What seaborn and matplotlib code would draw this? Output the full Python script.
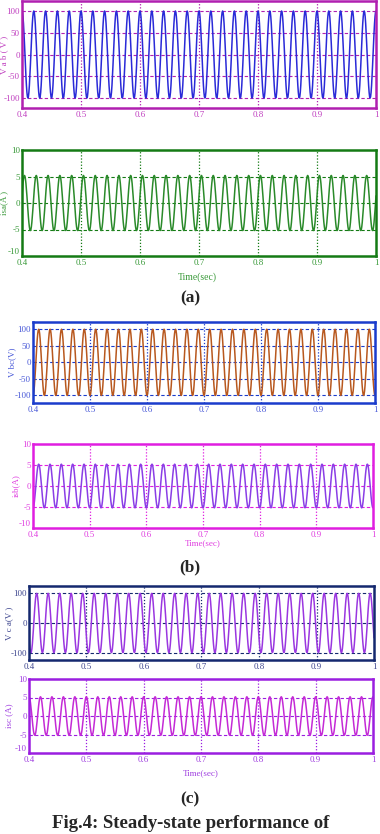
import numpy as np
import pandas as pd
import seaborn as sns
import matplotlib.pyplot as plt

sns.set_style("white")
plt.rcParams['font.family'] = ['Liberation Serif', 'DejaVu Serif']
plt.rcParams['axes.unicode_minus'] = False

# one period of the waveforms (per unit), 24 samples
cycle_shape = [0.0, 0.26, 0.5, 0.71, 0.87, 0.97, 1.0, 0.97, 0.87, 0.71, 0.5, 0.26,
               0.0, -0.26, -0.5, -0.71, -0.87, -0.97, -1.0, -0.97, -0.87, -0.71, -0.5, -0.26]
n_cycles = 30          # 50 Hz over 0.4 .. 1.0 s
t_start, t_end = 0.4, 1.0

names = ["Vab", "isa", "Vbc", "isb", "Vca", "isc"]
amplitudes = [100, 5.2, 100, 5.2, 100, 5.2]
start_index = [6, 1, 18, 18, 14, 6]   # where in the cycle each trace starts at t=0.4
ylabels = ["V a b ( V )", "isa(A )", "V bc(V)", "isb(A)", "V c a(V )", "isc (A)"]
yticks = [[-100, -50, 0, 50, 100], [-10, -5, 0, 5, 10],
          [-100, -50, 0, 50, 100], [-10, -5, 0, 5, 10],
          [-100, 0, 100], [-10, -5, 0, 5, 10]]
ylims = [(-123, 123), (-10, 10), (-123, 122), (-10, 10), (-125, 125), (-10, 10)]
xticks = [0.4, 0.5, 0.6, 0.7, 0.8, 0.9, 1.0]
xticklabels = ["0.4", "0.5", "0.6", "0.7", "0.8", "0.9", "1"]

line_colors = ["#2a2ad8", "#2a8a2a", "#b8581e", "#8a3ee6", "#9a36e0", "#c42ad6"]
frame_colors = ["#b020b0", "#147a14", "#1a3ccc", "#e01ee0", "#14286e", "#9a1ee0"]
label_colors = ["#c040c0", "#3a9a3a", "#4a5ad8", "#e040e0", "#404890", "#a040e0"]

# axes rectangles in pixels: left, top, right, bottom
boxes = [(22, 1, 376, 108), (22, 150, 376, 256),
         (33, 322, 375, 403), (33, 444, 373, 528),
         (29, 586, 374, 660), (29, 679, 373, 753)]
ylabel_x = [4, 4, 12, 16, 9, 9]

W, H = 380, 834
fig = plt.figure(figsize=(W / 100, H / 100), dpi=100)

n = len(cycle_shape)
t = np.linspace(t_start, t_end, n_cycles * n + 1)
for i in range(6):
    wave = np.roll(np.array(cycle_shape), -start_index[i])
    y = np.append(np.tile(wave, n_cycles), wave[0]) * amplitudes[i]
    df = pd.DataFrame({"t": t, "v": y})

    l, tp, r, b = boxes[i]
    ax = fig.add_axes([l / W, 1 - b / H, (r - l) / W, (b - tp) / H])
    sns.lineplot(data=df, x="t", y="v", ax=ax, color=line_colors[i], linewidth=1.1)
    ax.set_xlim(t_start, t_end)
    ax.set_ylim(*ylims[i])
    ax.set_xticks(xticks)
    ax.set_xticklabels(xticklabels)
    ax.set_yticks(yticks[i])
    ax.set_xlabel("")
    ax.set_ylabel("")
    ax.tick_params(length=0, labelsize=6.5, colors=label_colors[i], pad=1.5)
    ax.tick_params(axis="x", pad=2.5)
    for s in ax.spines.values():
        s.set_color(frame_colors[i])
        s.set_linewidth(1.8)
    lo, hi = ylims[i]
    if yticks[i][0] == lo:
        ax.get_yticklabels()[0].set_va("bottom")
    for yv in yticks[i]:
        if lo < yv < hi:
            ax.axhline(yv, color=frame_colors[i], ls=(0, (3, 2)), lw=0.8, zorder=0)
    for xv in xticks[1:-1]:
        ax.axvline(xv, color=frame_colors[i], ls=(0, (1, 1.5)), lw=0.9, zorder=0)
    fig.text(ylabel_x[i] / W, 1 - (tp + b) / 2 / H, ylabels[i], rotation=90,
             ha="center", va="center", fontsize=6.5, color=label_colors[i])

fig.text(197 / W, 1 - 277 / H, "Time(sec)", ha="center", va="center", fontsize=7, color=label_colors[1])
fig.text(203 / W, 1 - 543 / H, "Time(sec)", ha="center", va="center", fontsize=6.5, color=label_colors[3])
fig.text(201 / W, 1 - 773 / H, "Time(sec)", ha="center", va="center", fontsize=6.5, color=label_colors[5])

fig.text(190 / W, 1 - 298 / H, "(a)", ha="center", va="center", fontsize=12.5, fontweight="bold")
fig.text(190 / W, 1 - 567 / H, "(b)", ha="center", va="center", fontsize=12.5, fontweight="bold")
fig.text(190 / W, 1 - 799 / H, "(c)", ha="center", va="center", fontsize=12.5, fontweight="bold")
fig.text(191 / W, 1 - 823 / H, "Fig.4: Steady-state performance of", ha="center", va="center",
         fontsize=13.5, fontweight="bold")

fig.savefig("out.png", dpi=100)
